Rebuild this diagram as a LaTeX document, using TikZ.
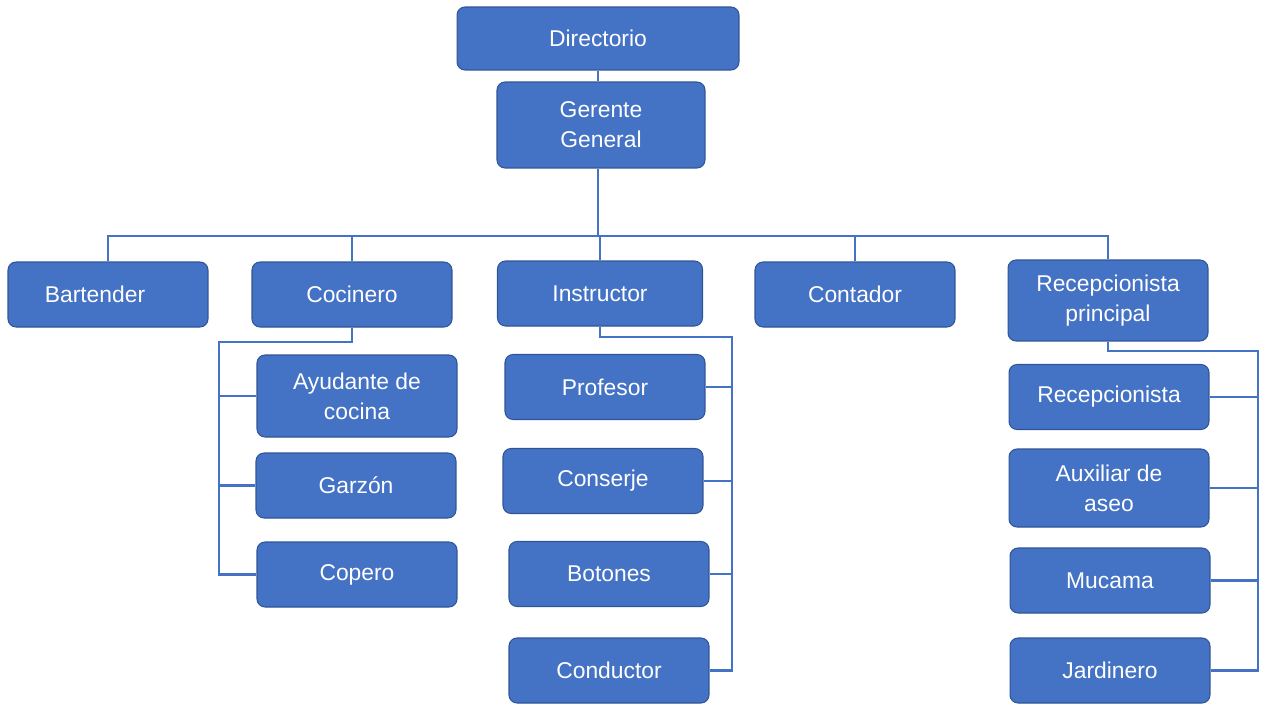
\documentclass[tikz,border=0pt]{standalone}
\usepackage{fontspec}
\setmainfont{Liberation Sans}
\usepackage{tikz}
\usetikzlibrary{positioning,calc}

\definecolor{boxblue}{HTML}{4472C4}
\definecolor{boxedge}{HTML}{2F5597}

\begin{document}
\begin{tikzpicture}[
    x=0.02cm, y=-0.02cm,
    box/.style={draw=boxedge, line width=0.6pt, fill=boxblue, rounded corners=0.16cm, minimum width=4cm, minimum height=1.3cm, align=center, text=white, font=\fontsize{13}{17}\selectfont, inner sep=2pt},
    conn/.style={draw=boxblue, line width=1.6pt}
]
\useasboundingbox (0,0) rectangle (1269,704);

% top
\node[box, minimum width=5.64cm, minimum height=1.26cm] (dir) at (598,38.5) {Directorio};
\node[box, minimum width=4.16cm, minimum height=1.72cm] (gg) at (601,125) {Gerente\\General};

% second level
\node[box] (bar) at (108,294.5) {\hspace*{-0.52cm}Bartender};
\node[box] (coc) at (352,294.5) {Cocinero};
\node[box, minimum width=4.1cm] (ins) at (600,293.5) {Instructor};
\node[box] (con) at (855,294.5) {Contador};
\node[box, minimum height=1.62cm] (rp) at (1108,300.5) {Recepcionista\\principal};

% under Cocinero
\node[box, minimum height=1.64cm] (ayu) at (357,396) {Ayudante de\\cocina};
\node[box] (gar) at (356,485.5) {Garzón};
\node[box] (cop) at (357,574.5) {Copero};

% under Instructor
\node[box] (pro) at (605,387) {Profesor};
\node[box] (cnj) at (603,481) {Conserje};
\node[box] (bot) at (609,574) {Botones};
\node[box] (cnd) at (609,670.5) {Conductor};

% under Recepcionista principal
\node[box] (rec) at (1109,397) {Recepcionista};
\node[box, minimum height=1.56cm] (aux) at (1109,488) {Auxiliar de\\aseo};
\node[box] (muc) at (1110,580.5) {Mucama};
\node[box] (jar) at (1110,670.5) {Jardinero};

% connectors
\coordinate (bus) at (598,236);
\coordinate (cocbar) at (219,342);
\coordinate (insbar) at (732,337);
\coordinate (rpbar) at (1258,351);

\draw[conn] (dir.south) -- (dir.south |- gg.north);
\draw[conn] (gg.south -| bus) -- (bus);
\draw[conn] (bar.north) |- (bus) -| (rp.north);
\foreach \n in {coc,ins,con}
  \draw[conn] (\n.north) -- (\n.north |- bus);

\draw[conn] (coc.south) |- (cocbar) -- (cocbar |- cop.west) -- (cop.west);
\foreach \n in {ayu,gar}
  \draw[conn] (cocbar |- \n.west) -- (\n.west);

\draw[conn] (ins.south) |- (insbar) -- (insbar |- cnd.east) -- (cnd.east);
\foreach \n in {pro,cnj,bot}
  \draw[conn] (insbar |- \n.east) -- (\n.east);

\draw[conn] (rp.south) |- (rpbar) -- (rpbar |- jar.east) -- (jar.east);
\foreach \n in {rec,aux,muc}
  \draw[conn] (rpbar |- \n.east) -- (\n.east);
\end{tikzpicture}
\end{document}
